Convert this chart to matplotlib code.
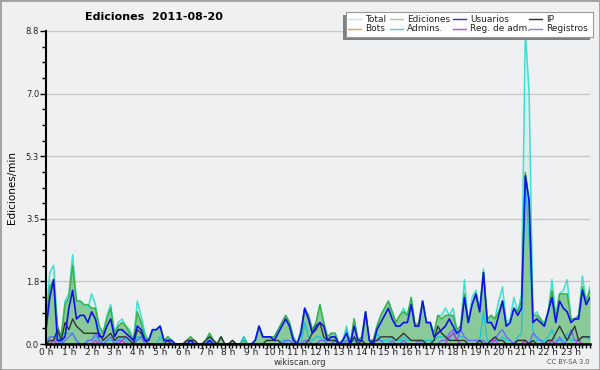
import matplotlib
matplotlib.use("Agg")
from matplotlib import pyplot as plt
from matplotlib.patches import Rectangle
from matplotlib.lines import Line2D
import numpy as np

W, H = 600, 370

################
## CHART DATA ##
################
title = "Ediciones  2011-08-20"
hour_labels = [f"{h} h" for h in range(24)]
ytick_values = [0, 1.75, 3.5, 5.25, 7.0, 8.75]
ytick_labels = ["0.0", "1.8", "3.5", "5.3", "7.0", "8.8"]

# one value per 10 minutes, edits per minute (two hours per row)
total = [
    0.7, 2.0, 2.2, 0.5, 0.2, 1.2,  1.4, 2.5, 1.2, 1.2, 1.1, 1.0,
    1.4, 1.1, 0.4, 0.3, 0.8, 1.1,  0.3, 0.6, 0.7, 0.5, 0.4, 0.1,
    1.2, 0.8, 0.3, 0.1, 0.4, 0.4,  0.5, 0.1, 0.2, 0.1, 0.0, 0.0,
    0.0, 0.1, 0.2, 0.1, 0.0, 0.0,  0.1, 0.3, 0.1, 0.0, 0.2, 0.0,
    0.0, 0.1, 0.0, 0.0, 0.2, 0.0,  0.0, 0.1, 0.5, 0.2, 0.2, 0.2,
    0.2, 0.4, 0.6, 0.8, 0.6, 0.2,  0.0, 0.4, 1.0, 0.8, 0.4, 0.6,
    1.1, 0.6, 0.2, 0.3, 0.3, 0.0,  0.1, 0.5, 0.0, 0.7, 0.1, 0.2,
    0.9, 0.1, 0.1, 0.5, 0.8, 1.0,  1.2, 0.9, 0.6, 0.8, 1.0, 0.8,
    1.3, 0.5, 0.6, 1.2, 0.6, 0.6,  0.3, 0.8, 0.8, 1.0, 0.8, 1.0,
    0.4, 0.5, 1.8, 0.6, 1.3, 1.5,  1.0, 2.1, 0.6, 0.8, 0.7, 1.2,
    1.6, 0.6, 0.7, 1.3, 0.9, 1.4,  8.75, 7.0, 0.8, 0.9, 0.7, 0.6,
    0.9, 1.8, 0.8, 1.4, 1.5, 1.8,  0.7, 0.7, 0.8, 1.9, 1.2, 1.6,
]
ediciones = [
    0.6, 1.6, 1.8, 0.5, 0.2, 1.1,  1.3, 2.2, 1.2, 1.2, 1.1, 1.1,
    1.0, 1.0, 0.5, 0.3, 0.7, 1.0,  0.3, 0.5, 0.6, 0.5, 0.3, 0.1,
    0.9, 0.6, 0.2, 0.1, 0.4, 0.4,  0.5, 0.1, 0.2, 0.1, 0.0, 0.0,
    0.0, 0.1, 0.2, 0.1, 0.0, 0.0,  0.1, 0.3, 0.1, 0.0, 0.2, 0.0,
    0.0, 0.1, 0.0, 0.0, 0.1, 0.0,  0.0, 0.1, 0.5, 0.2, 0.2, 0.2,
    0.2, 0.4, 0.6, 0.8, 0.6, 0.2,  0.0, 0.3, 1.0, 0.8, 0.4, 0.6,
    1.1, 0.6, 0.2, 0.3, 0.3, 0.0,  0.1, 0.3, 0.0, 0.7, 0.1, 0.2,
    0.9, 0.1, 0.1, 0.5, 0.8, 1.0,  1.2, 0.9, 0.6, 0.8, 0.9, 0.8,
    1.3, 0.5, 0.6, 1.2, 0.6, 0.6,  0.3, 0.8, 0.7, 0.8, 0.8, 0.8,
    0.4, 0.5, 1.4, 0.6, 1.1, 1.4,  0.9, 2.0, 0.7, 0.8, 0.7, 0.9,
    1.2, 0.5, 0.6, 1.0, 0.9, 1.2,  4.8, 4.0, 0.8, 0.8, 0.7, 0.5,
    0.9, 1.5, 0.7, 1.4, 1.4, 1.4,  0.7, 0.7, 0.8, 1.6, 1.2, 1.5,
]
usuarios = [
    0.4, 1.3, 1.8, 0.1, 0.1, 0.2,  1.0, 1.5, 0.7, 0.8, 0.8, 0.6,
    0.9, 0.7, 0.2, 0.2, 0.5, 0.7,  0.2, 0.4, 0.4, 0.3, 0.2, 0.1,
    0.5, 0.4, 0.1, 0.1, 0.4, 0.4,  0.5, 0.1, 0.1, 0.1, 0.0, 0.0,
    0.0, 0.0, 0.1, 0.0, 0.0, 0.0,  0.0, 0.1, 0.0, 0.0, 0.0, 0.0,
    0.0, 0.0, 0.0, 0.0, 0.0, 0.0,  0.0, 0.1, 0.5, 0.2, 0.2, 0.2,
    0.1, 0.3, 0.5, 0.7, 0.5, 0.1,  0.0, 0.3, 1.0, 0.7, 0.3, 0.5,
    0.6, 0.5, 0.1, 0.2, 0.2, 0.0,  0.1, 0.3, 0.0, 0.5, 0.1, 0.1,
    0.9, 0.1, 0.0, 0.4, 0.6, 0.8,  1.0, 0.7, 0.5, 0.5, 0.6, 0.6,
    1.1, 0.5, 0.5, 1.2, 0.6, 0.6,  0.2, 0.3, 0.4, 0.5, 0.7, 0.5,
    0.3, 0.4, 1.3, 0.6, 1.1, 1.4,  0.9, 2.0, 0.6, 0.6, 0.4, 0.8,
    1.2, 0.5, 0.6, 1.0, 0.8, 1.0,  4.7, 4.0, 0.6, 0.7, 0.6, 0.5,
    0.9, 1.3, 0.6, 1.2, 1.0, 0.9,  0.6, 0.7, 0.7, 1.5, 1.1, 1.3,
]
ip = [
    0.0, 0.1, 0.1, 0.4, 0.1, 0.6,  0.4, 0.7, 0.5, 0.4, 0.3, 0.3,
    0.3, 0.3, 0.3, 0.1, 0.2, 0.3,  0.1, 0.2, 0.2, 0.2, 0.1, 0.0,
    0.4, 0.3, 0.1, 0.0, 0.0, 0.0,  0.0, 0.0, 0.1, 0.0, 0.0, 0.0,
    0.0, 0.1, 0.1, 0.1, 0.0, 0.0,  0.1, 0.2, 0.1, 0.0, 0.2, 0.0,
    0.0, 0.1, 0.0, 0.0, 0.0, 0.0,  0.0, 0.0, 0.0, 0.0, 0.1, 0.1,
    0.1, 0.1, 0.0, 0.0, 0.0, 0.0,  0.0, 0.0, 0.0, 0.1, 0.3, 0.4,
    0.6, 0.2, 0.1, 0.1, 0.1, 0.0,  0.0, 0.0, 0.0, 0.2, 0.0, 0.1,
    0.0, 0.0, 0.1, 0.1, 0.2, 0.2,  0.2, 0.2, 0.1, 0.2, 0.3, 0.2,
    0.1, 0.1, 0.1, 0.1, 0.0, 0.0,  0.1, 0.5, 0.3, 0.2, 0.1, 0.1,
    0.1, 0.1, 0.1, 0.0, 0.0, 0.0,  0.1, 0.0, 0.0, 0.1, 0.2, 0.1,
    0.1, 0.0, 0.0, 0.0, 0.1, 0.1,  0.1, 0.0, 0.1, 0.0, 0.0, 0.0,
    0.1, 0.1, 0.3, 0.5, 0.3, 0.1,  0.3, 0.5, 0.1, 0.2, 0.2, 0.2,
]
admins = [
    0.1, 0.2, 0.2, 0.2, 0.0, 0.3,  0.3, 0.3, 0.1, 0.0, 0.0, 0.1,
    0.1, 0.2, 0.1, 0.0, 0.1, 0.1,  0.1, 0.1, 0.2, 0.1, 0.0, 0.0,
    0.2, 0.2, 0.1, 0.0, 0.0, 0.0,  0.2, 0.0, 0.0, 0.0, 0.0, 0.0,
    0.0, 0.0, 0.0, 0.0, 0.0, 0.0,  0.0, 0.1, 0.0, 0.0, 0.0, 0.0,
    0.0, 0.0, 0.0, 0.0, 0.2, 0.0,  0.0, 0.0, 0.0, 0.0, 0.0, 0.0,
    0.0, 0.0, 0.1, 0.1, 0.0, 0.0,  0.0, 0.0, 0.6, 0.2, 0.1, 0.2,
    0.2, 0.1, 0.1, 0.1, 0.0, 0.0,  0.0, 0.4, 0.0, 0.1, 0.0, 0.0,
    0.0, 0.0, 0.0, 0.3, 0.1, 0.1,  0.1, 0.2, 0.1, 0.1, 0.2, 0.1,
    0.1, 0.1, 0.1, 0.1, 0.1, 0.1,  0.1, 0.2, 0.2, 0.2, 0.1, 0.3,
    0.3, 0.2, 0.2, 0.1, 0.1, 0.1,  0.1, 0.9, 0.1, 0.1, 0.1, 0.1,
    0.2, 0.1, 0.1, 0.0, 0.2, 0.3,  4.5, 3.0, 0.4, 0.1, 0.1, 0.1,
    0.2, 0.4, 0.1, 0.1, 0.1, 0.3,  0.1, 0.1, 0.1, 0.2, 0.2, 0.1,
]
registros = [
    0.0, 0.2, 0.2, 0.1, 0.0, 0.1,  0.2, 0.3, 0.1, 0.0, 0.0, 0.1,
    0.1, 0.3, 0.1, 0.0, 0.1, 0.2,  0.0, 0.1, 0.1, 0.2, 0.1, 0.0,
    0.1, 0.2, 0.0, 0.0, 0.0, 0.0,  0.0, 0.0, 0.0, 0.0, 0.0, 0.0,
    0.0, 0.0, 0.0, 0.0, 0.0, 0.0,  0.0, 0.1, 0.0, 0.0, 0.0, 0.0,
    0.0, 0.0, 0.0, 0.0, 0.0, 0.0,  0.0, 0.0, 0.0, 0.0, 0.0, 0.0,
    0.0, 0.0, 0.0, 0.1, 0.1, 0.0,  0.0, 0.0, 0.1, 0.1, 0.0, 0.0,
    0.1, 0.1, 0.0, 0.0, 0.1, 0.0,  0.0, 0.1, 0.0, 0.2, 0.0, 0.0,
    0.0, 0.0, 0.0, 0.1, 0.1, 0.0,  0.0, 0.1, 0.0, 0.0, 0.1, 0.0,
    0.0, 0.0, 0.1, 0.0, 0.0, 0.0,  0.0, 0.0, 0.1, 0.1, 0.3, 0.4,
    0.1, 0.4, 0.2, 0.1, 0.1, 0.1,  0.1, 0.1, 0.0, 0.0, 0.1, 0.3,
    0.4, 0.2, 0.1, 0.0, 0.1, 0.1,  0.1, 0.0, 0.3, 0.2, 0.1, 0.0,
    0.1, 0.1, 0.0, 0.2, 0.0, 0.1,  0.4, 0.1, 0.1, 0.2, 0.2, 0.2,
]
reg_adm = [
    0.0, 0.0, 0.1, 0.0, 0.0, 0.0,  0.0, 0.0, 0.0, 0.0, 0.0, 0.0,
    0.0, 0.1, 0.0, 0.0, 0.0, 0.0,  0.0, 0.0, 0.1, 0.0, 0.0, 0.0,
    0.0, 0.0, 0.0, 0.0, 0.0, 0.0,  0.0, 0.0, 0.0, 0.0, 0.0, 0.0,
    0.0, 0.0, 0.0, 0.0, 0.0, 0.0,  0.0, 0.0, 0.0, 0.0, 0.0, 0.0,
    0.0, 0.0, 0.0, 0.0, 0.0, 0.0,  0.0, 0.0, 0.0, 0.0, 0.0, 0.0,
    0.0, 0.0, 0.0, 0.0, 0.0, 0.0,  0.0, 0.0, 0.0, 0.0, 0.0, 0.0,
    0.0, 0.0, 0.0, 0.0, 0.0, 0.0,  0.0, 0.0, 0.0, 0.0, 0.0, 0.0,
    0.0, 0.0, 0.0, 0.0, 0.0, 0.0,  0.0, 0.0, 0.0, 0.0, 0.0, 0.0,
    0.0, 0.0, 0.0, 0.0, 0.0, 0.0,  0.0, 0.0, 0.0, 0.0, 0.2, 0.3,
    0.1, 0.0, 0.0, 0.0, 0.0, 0.0,  0.0, 0.0, 0.0, 0.1, 0.1, 0.0,
    0.0, 0.0, 0.0, 0.0, 0.0, 0.0,  0.1, 0.0, 0.0, 0.0, 0.0, 0.0,
    0.0, 0.1, 0.0, 0.0, 0.0, 0.0,  0.0, 0.0, 0.1, 0.0, 0.0, 0.0,
]
bots = [
    0.0, 0.0, 0.0, 0.0, 0.0, 0.0,  0.0, 0.0, 0.0, 0.0, 0.0, 0.0,
    0.0, 0.0, 0.0, 0.0, 0.0, 0.0,  0.0, 0.0, 0.0, 0.0, 0.0, 0.0,
    0.0, 0.0, 0.0, 0.0, 0.0, 0.0,  0.0, 0.0, 0.0, 0.0, 0.0, 0.0,
    0.0, 0.0, 0.0, 0.0, 0.0, 0.0,  0.0, 0.0, 0.0, 0.0, 0.0, 0.0,
    0.0, 0.0, 0.0, 0.0, 0.0, 0.0,  0.0, 0.0, 0.0, 0.0, 0.0, 0.0,
    0.0, 0.0, 0.0, 0.0, 0.0, 0.0,  0.0, 0.0, 0.0, 0.0, 0.0, 0.0,
    0.0, 0.0, 0.0, 0.0, 0.0, 0.0,  0.0, 0.0, 0.0, 0.0, 0.0, 0.0,
    0.0, 0.0, 0.0, 0.0, 0.0, 0.0,  0.0, 0.0, 0.0, 0.0, 0.0, 0.0,
    0.0, 0.0, 0.0, 0.0, 0.0, 0.0,  0.0, 0.0, 0.0, 0.0, 0.0, 0.0,
    0.0, 0.0, 0.0, 0.0, 0.0, 0.0,  0.0, 0.0, 0.0, 0.0, 0.0, 0.0,
    0.0, 0.0, 0.0, 0.0, 0.0, 0.0,  0.0, 0.0, 0.0, 0.0, 0.0, 0.0,
    0.0, 0.0, 0.0, 0.0, 0.0, 0.0,  0.0, 0.0, 0.0, 0.0, 0.0, 0.0,
]

legend_labels = ["Total", "Ediciones", "Usuarios", "IP",
                 "Bots", "Admins.", "Reg. de adm.", "Registros"]
legend_colors = ["#b4ecec", "#8cd88c", "#3030e0", "#303030",
                 "#f0a040", "#40d0e0", "#d040e0", "#8080ff"]

BG = "#eff0f2"


def px(x, y):
    # pixel position in the 600x370 picture -> figure fraction
    return x / W, 1 - y / H


def main():
    plt.rcParams["font.family"] = "DejaVu Sans"
    fig = plt.figure(figsize=(W / 100, H / 100), dpi=100, facecolor=BG)
    fig.patches.append(Rectangle((0, 0), 1, 1, transform=fig.transFigure,
                                 fill=False, edgecolor="#a0a0a0", lw=2))

    l, b = px(46, 344)
    r, t = px(590, 31)
    ax = fig.add_axes([l, b, r - l, t - b])
    ax.set_facecolor(BG)

    x = np.arange(len(total))

    ###########
    ## AREAS ##
    ###########
    ax.fill_between(x, total, color="#40e0d0", alpha=0.12, lw=0, zorder=1)
    ax.fill_between(x, ediciones, color="#3aa845", alpha=0.5, lw=0, zorder=1.1)

    ###########
    ## LINES ##
    ###########
    ax.plot(x, bots, color="#f0a040", lw=1, zorder=1.5)
    ax.plot(x, total, color="#40e0d0", lw=1.1, zorder=2)
    ax.plot(x, ediciones, color="#3cb043", lw=1.1, zorder=2.1)
    ax.plot(x, admins, color="#22c4d4", lw=1, zorder=2.2)
    ax.plot(x, registros, color="#6a6aff", lw=1, zorder=2.3)
    ax.plot(x, reg_adm, color="#cc33dd", lw=1, zorder=2.3)
    ax.plot(x, ip, color="#333333", lw=1, zorder=2.4)
    ax.plot(x, usuarios, color="#1010ee", lw=1.2, zorder=2.5)

    ##########
    ## AXES ##
    ##########
    ax.set_xlim(0, len(total) - 1)
    ax.set_ylim(0, ytick_values[-1])
    ax.set_xticks(np.arange(0, len(total), 6))
    ax.set_xticklabels(hour_labels, fontsize=6.5, color="#222222")
    ax.set_xticks(x, minor=True)
    ax.set_yticks(ytick_values)
    ax.set_yticklabels(ytick_labels, fontsize=6, color="#222222")
    ax.set_yticks(np.arange(0, ytick_values[-1], ytick_values[1] / 4), minor=True)
    ax.tick_params(axis="x", which="both", direction="out", length=3, width=1, pad=0)
    ax.tick_params(axis="y", which="major", direction="out", length=4, width=1, pad=1)
    ax.tick_params(axis="y", which="minor", direction="out", length=3, width=1)
    ax.grid(axis="y", which="major", color="#c8c8c8", lw=1)
    ax.set_axisbelow(True)
    for side in ["top", "right"]:
        ax.spines[side].set_visible(False)
    ax.spines["left"].set_linewidth(1.5)
    ax.spines["bottom"].set_linewidth(1.8)
    ax.spines["left"].set_zorder(5)
    ax.spines["bottom"].set_zorder(5)
    ax.set_ylabel("Ediciones/min", fontsize=7.5)
    ax.yaxis.set_label_coords(-0.054, 0.5)

    ##########
    ## TEXT ##
    ##########
    fig.text(*px(154, 17), title, fontsize=8, fontweight="bold", ha="center", va="center")
    fig.text(*px(300, 362.5), "wikiscan.org", fontsize=6, color="#333333", ha="center", va="center")
    fig.text(*px(590, 362.5), "CC BY-SA 3.0", fontsize=4.8, color="#555555", ha="right", va="center")

    ############
    ## LEGEND ##
    ############
    x0, y0 = px(343, 40)
    x1, y1 = px(590, 15)
    fig.patches.append(Rectangle((x0, y0), x1 - x0, y1 - y0, transform=fig.transFigure,
                                 facecolor="#808080", edgecolor="none", zorder=10))
    x0, y0 = px(346, 37)
    x1, y1 = px(593, 12)
    fig.patches.append(Rectangle((x0, y0), x1 - x0, y1 - y0, transform=fig.transFigure,
                                 facecolor="white", edgecolor="#999999", lw=0.8, zorder=11))
    col_x = [348, 390, 453, 529]
    row_y = [19, 28.5]
    for k, (label, color) in enumerate(zip(legend_labels, legend_colors)):
        cx, ry = col_x[k % 4], row_y[k // 4]
        (ax0, ay), (ax1, _) = px(cx, ry), px(cx + 13, ry)
        fig.lines.append(Line2D([ax0, ax1], [ay, ay], transform=fig.transFigure,
                                color=color, lw=1, zorder=12))
        fig.text(*px(cx + 17, ry), label, fontsize=6.5, color="#222222",
                 ha="left", va="center", zorder=12)

    fig.savefig("out.png", dpi=100, facecolor=BG)


if __name__ == "__main__":
    main()
